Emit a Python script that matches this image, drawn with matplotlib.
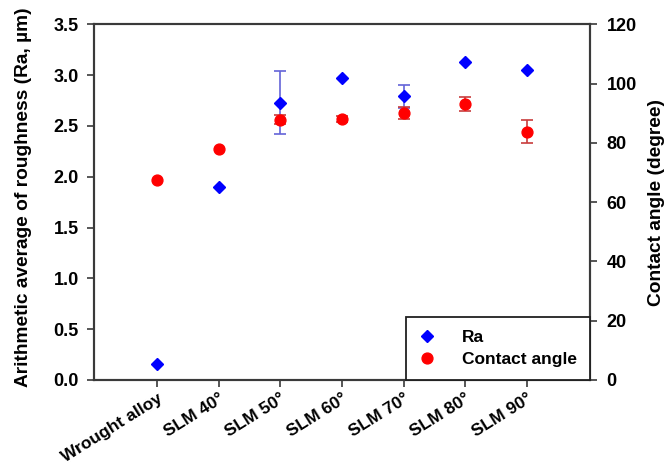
import numpy as np
import matplotlib
matplotlib.use("Agg")
import matplotlib.pyplot as plt
from matplotlib.lines import Line2D

plt.rcParams['font.family'] = ['Liberation Sans', 'DejaVu Sans']

categories = ["Wrought alloy", "SLM 40°", "SLM 50°", "SLM 60°", "SLM 70°", "SLM 80°", "SLM 90°"]
ra_values = [0.16, 1.90, 2.73, 2.975, 2.79, 3.13, 3.05]
ra_errors = [0.0, 0.0, 0.31, 0.0, 0.11, 0.0, 0.0]
ca_values = [67.4, 77.8, 87.8, 87.9, 90.0, 93.1, 83.8]
ca_errors = [0.0, 0.0, 1.5, 1.0, 2.0, 2.3, 4.0]

left_ticks = [0.0, 0.5, 1.0, 1.5, 2.0, 2.5, 3.0, 3.5]
right_ticks = [0, 20, 40, 60, 80, 100, 120]

fig = plt.figure(figsize=(6.66, 4.65), dpi=100)
ax1 = fig.add_axes([0.1411, 0.1828, 0.7448, 0.7649])
ax2 = ax1.twinx()

x = np.arange(len(categories))
ra_v = np.array(ra_values); ra_e = np.array(ra_errors)
ca_v = np.array(ca_values); ca_e = np.array(ca_errors)

m1 = ra_e > 0
ax1.errorbar(x[m1], ra_v[m1], yerr=ra_e[m1], fmt='none', ecolor='#6464d8',
             elinewidth=1.2, capsize=4.5, capthick=1.2, zorder=2)
ax1.plot(x, ra_v, linestyle='none', marker='D', markersize=6.2,
         color='#0000ff', markeredgecolor='#0000ff', zorder=3)

m2 = ca_e > 0
ax2.errorbar(x[m2], ca_v[m2], yerr=ca_e[m2], fmt='none', ecolor='#c83c3c',
             elinewidth=1.2, capsize=4.5, capthick=1.2, zorder=2)
ax2.plot(x, ca_v, linestyle='none', marker='o', markersize=7.8,
         color='#ff0000', markeredgecolor='#ff0000', zorder=3)

tick_fs = 13
label_fs = 13.8
ax1.set_xlim(-1.02, 7.02)
ax1.set_ylim(0, 3.5)
ax2.set_ylim(0, 120)
ax1.set_xticks(x)
ax1.set_xticklabels(categories, rotation=32, ha='right', va='top',
                    rotation_mode='anchor', fontsize=12.5, fontweight='bold')
ax1.set_yticks(left_ticks)
ax1.set_yticklabels([f"{v:.1f}" for v in left_ticks], fontsize=tick_fs, fontweight='bold')
ax2.set_yticks(right_ticks)
ax2.set_yticklabels([str(v) for v in right_ticks], fontsize=tick_fs, fontweight='bold')

spine_c = '#3a3a3a'
for ax in (ax1, ax2):
    for s in ax.spines.values():
        s.set_color(spine_c)
        s.set_linewidth(1.5)
ax1.tick_params(axis='y', direction='out', length=5, width=1.2, color=spine_c, pad=6)
ax1.tick_params(axis='x', direction='out', length=5, width=1.2, color=spine_c, pad=3)
ax2.tick_params(axis='y', direction='out', length=5, width=1.2, color=spine_c, pad=7)

ax1.set_ylabel("Arithmetic average of roughness (Ra, µm)", fontsize=label_fs, fontweight='bold')
ax2.set_ylabel("Contact angle (degree)", fontsize=label_fs, fontweight='bold', rotation=90)
ax1.yaxis.set_label_coords(-0.124, 0.515)
ax2.yaxis.set_label_coords(1.117, 0.5)

handles = [Line2D([], [], linestyle='none', marker='D', markersize=6.2, color='#0000ff'),
           Line2D([], [], linestyle='none', marker='o', markersize=7.8, color='#ff0000')]
leg = ax2.legend(handles, ["Ra", "Contact angle"], loc='lower right', borderaxespad=0,
                 fancybox=False, framealpha=1, handlelength=1.0,
                 handletextpad=1.5, borderpad=0.75, labelspacing=0.4,
                 prop={'size': 12.5, 'weight': 'semibold'})
leg.get_frame().set_edgecolor('#202020')
leg.get_frame().set_linewidth(1.3)

fig.savefig("out.png", dpi=100)
